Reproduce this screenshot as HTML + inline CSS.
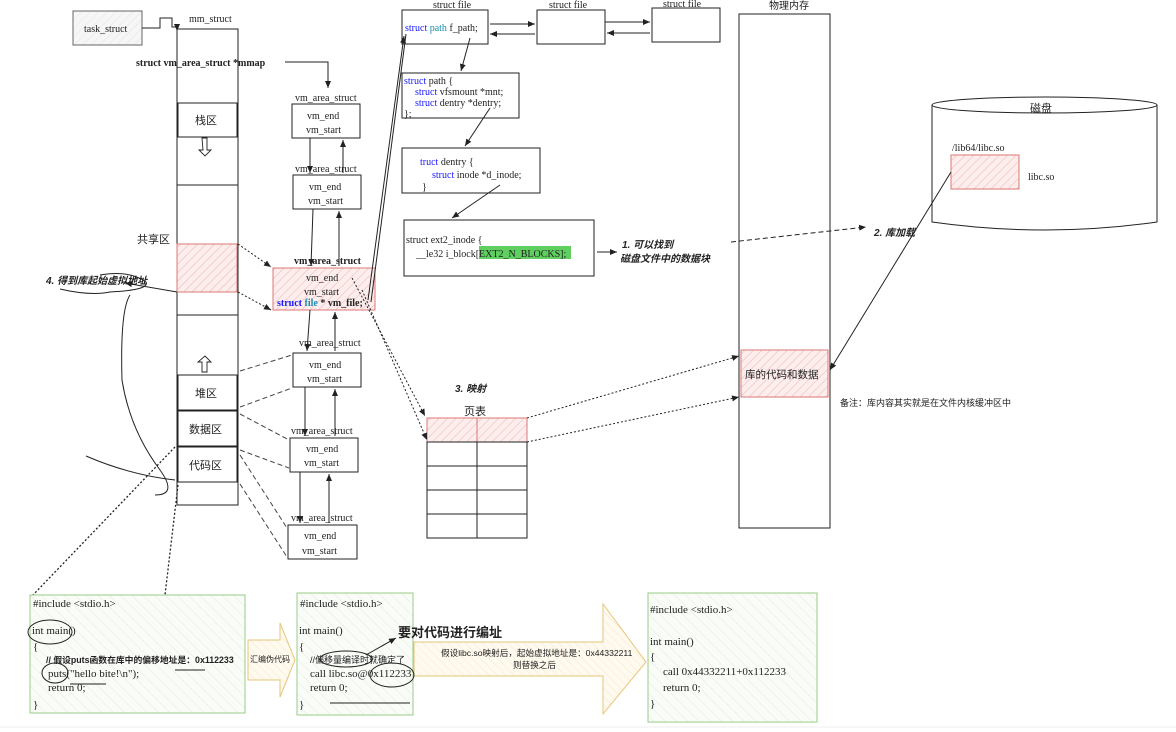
<!DOCTYPE html>
<html><head><meta charset="utf-8"><style>
html,body{margin:0;padding:0;background:#fff;}
svg{display:block;}
text{font-family:"Liberation Serif","Noto Sans CJK SC",serif;fill:#222;}
.cj{font-family:"Liberation Sans","Noto Sans CJK SC",sans-serif;}
.b{font-weight:bold;}
.bl{fill:#1a1aff;}
.cy{fill:#1a8fb0;}
</style></head><body>
<svg width="1176" height="732" viewBox="0 0 1176 732" font-size="10" xmlns="http://www.w3.org/2000/svg">
<defs>
<pattern id="rh" width="6" height="6" patternUnits="userSpaceOnUse" patternTransform="rotate(45)">
<rect width="6" height="6" fill="#fdeeee"/><line x1="0" y1="0" x2="0" y2="6" stroke="#f2b8b8" stroke-width="1.2"/></pattern>
<pattern id="gh" width="8" height="8" patternUnits="userSpaceOnUse" patternTransform="rotate(-45)">
<rect width="8" height="8" fill="#fafcf8"/><line x1="0" y1="0" x2="0" y2="8" stroke="#e2ebdc" stroke-width="1"/></pattern>
<pattern id="yh" width="6" height="6" patternUnits="userSpaceOnUse" patternTransform="rotate(-45)">
<rect width="6" height="6" fill="#fffaf0"/><line x1="0" y1="0" x2="0" y2="6" stroke="#f6e8c8" stroke-width="1"/></pattern>
<pattern id="gyh" width="6" height="6" patternUnits="userSpaceOnUse" patternTransform="rotate(45)">
<rect width="6" height="6" fill="#f6f6f6"/><line x1="0" y1="0" x2="0" y2="6" stroke="#e4e4e4" stroke-width="1"/></pattern>
<marker id="a" markerWidth="8" markerHeight="8" refX="7" refY="4" orient="auto" markerUnits="userSpaceOnUse"><path d="M0,1 L7,4 L0,7 z" fill="#222"/></marker>
</defs>
<g fill="none" stroke="#222" stroke-width="1">
<rect x="73" y="11" width="69" height="34" fill="url(#gyh)" stroke="#666"/>
<path d="M142,28 H160 V18 H172 V27 H177 V31" marker-end="url(#a)"/>
<rect x="177" y="29" width="61" height="476"/>
<line x1="177" y1="185" x2="238" y2="185"/>
<line x1="177" y1="315" x2="238" y2="315"/>
<rect x="178" y="103" width="59" height="34"/>
<rect x="177" y="244" width="60" height="48" fill="url(#rh)" stroke="#d77"/>
<rect x="178" y="375" width="59" height="35"/>
<rect x="178" y="411" width="59" height="35"/>
<rect x="178" y="447" width="59" height="35"/>
<path d="M202,138 h5 v12 h4 l-6,6 l-6,-6 h4 z" stroke-width="0.9"/>
<path d="M205,356 l6,6 h-4 v10 h-5 v-10 h-4 z" stroke-width="0.9"/>
<path d="M285,62 H328 V88" marker-end="url(#a)"/>
<rect x="292" y="104" width="68" height="34"/>
<rect x="293" y="175" width="68" height="34"/>
<rect x="273" y="268" width="102" height="42" fill="url(#rh)" stroke="#d77"/>
<rect x="293" y="353" width="68" height="34"/>
<rect x="290" y="438" width="68" height="34"/>
<rect x="288" y="525" width="69" height="34"/>
<line x1="310" y1="138" x2="310" y2="173" marker-end="url(#a)"/>
<line x1="343" y1="173" x2="343" y2="140" marker-end="url(#a)"/>
<line x1="313" y1="209" x2="311" y2="266" marker-end="url(#a)"/>
<line x1="339" y1="266" x2="339" y2="211" marker-end="url(#a)"/>
<line x1="310" y1="310" x2="307" y2="351" marker-end="url(#a)"/>
<line x1="335" y1="351" x2="335" y2="312" marker-end="url(#a)"/>
<line x1="305" y1="387" x2="305" y2="436" marker-end="url(#a)"/>
<line x1="335" y1="436" x2="335" y2="389" marker-end="url(#a)"/>
<line x1="300" y1="472" x2="300" y2="523" marker-end="url(#a)"/>
<line x1="329" y1="523" x2="329" y2="474" marker-end="url(#a)"/>
<path d="M238,244 L271,267" stroke-dasharray="2,2" marker-end="url(#a)"/>
<path d="M238,292 L271,310" stroke-dasharray="2,2" marker-end="url(#a)"/>
<g stroke-dasharray="5,3" stroke="#444">
<line x1="240" y1="371" x2="292" y2="355"/>
<line x1="240" y1="407" x2="292" y2="388"/>
<line x1="240" y1="414" x2="289" y2="440"/>
<line x1="240" y1="450" x2="289" y2="468"/>
<line x1="240" y1="455" x2="287" y2="528"/>
<line x1="240" y1="484" x2="287" y2="557"/>
</g>
<path d="M368,300 L404,36" marker-end="url(#a)"/>
<path d="M371,302 L406,34"/>
<rect x="402" y="10" width="86" height="34"/>
<rect x="537" y="10" width="68" height="34"/>
<rect x="652" y="8" width="68" height="34"/>
<line x1="490" y1="24" x2="535" y2="24" marker-end="url(#a)"/>
<line x1="535" y1="34" x2="490" y2="34" marker-end="url(#a)"/>
<line x1="605" y1="22" x2="650" y2="22" marker-end="url(#a)"/>
<line x1="650" y1="33" x2="607" y2="33" marker-end="url(#a)"/>
<rect x="402" y="73" width="117" height="45"/>
<rect x="402" y="148" width="138" height="45"/>
<rect x="404" y="220" width="190" height="56"/>
<line x1="470" y1="38" x2="461" y2="71" marker-end="url(#a)"/>
<line x1="490" y1="108" x2="465" y2="146" marker-end="url(#a)"/>
<line x1="500" y1="185" x2="452" y2="218" marker-end="url(#a)"/>
<line x1="597" y1="252" x2="617" y2="252" marker-end="url(#a)"/>
<rect x="739" y="14" width="91" height="514"/>
<rect x="741" y="350" width="87" height="47" fill="url(#rh)" stroke="#d77"/>
<path d="M731,242 L866,227" stroke-dasharray="5,3" marker-end="url(#a)"/>
<path d="M932,105 V222 Q1045,238 1157,222 V105"/>
<ellipse cx="1044.5" cy="105" rx="112.5" ry="8" fill="#fff"/>
<rect x="951" y="155" width="68" height="34" fill="url(#rh)" stroke="#d77"/>
<line x1="951" y1="172" x2="830" y2="370" marker-end="url(#a)"/>
<rect x="427" y="418" width="100" height="24" fill="url(#rh)" stroke="#d77"/>
<line x1="477" y1="418" x2="477" y2="442" stroke="#d77"/>
<rect x="427" y="442" width="100" height="96"/>
<line x1="477" y1="442" x2="477" y2="538"/>
<line x1="427" y1="466" x2="527" y2="466"/><line x1="427" y1="490" x2="527" y2="490"/><line x1="427" y1="514" x2="527" y2="514"/>
<g stroke-dasharray="2,2">
<line x1="352" y1="278" x2="425" y2="416" marker-end="url(#a)"/>
<line x1="362" y1="290" x2="427" y2="440" marker-end="url(#a)"/>
<line x1="527" y1="418" x2="739" y2="356" marker-end="url(#a)"/>
<line x1="527" y1="442" x2="739" y2="397" marker-end="url(#a)"/>
</g>
<path d="M177,292 L125,283" marker-end="url(#a)"/>
<path d="M60,289 Q90,296 110,292 Q150,290 146,282 Q130,270 100,275"/>
<path d="M130,295 Q120,310 122,380 Q130,430 160,470 Q178,495 155,495"/>
<path d="M86,456 Q130,475 175,480"/>
<path d="M175,447 L33,595" stroke-dasharray="2,2" stroke-width="1.3"/>
<path d="M178,485 L165,595" stroke-dasharray="2,2" stroke-width="1.3"/>
<rect x="30" y="595" width="215" height="118" fill="url(#gh)" stroke="#9c8"/>
<rect x="297" y="593" width="116" height="122" fill="url(#gh)" stroke="#9c8"/>
<rect x="648" y="593" width="169" height="129" fill="url(#gh)" stroke="#9c8"/>
<path d="M248,640 H280 V623 L295,660 L280,697 V680 H248 Z" fill="url(#yh)" stroke="#e6c77a"/>
<path d="M414,642 H603 V604 L646,662 L603,714 V676 H414 Z" fill="url(#yh)" stroke="#e6c77a"/>
<ellipse cx="50" cy="632" rx="22" ry="12"/>
<ellipse cx="55" cy="673" rx="13" ry="10"/>
<ellipse cx="346" cy="659" rx="26" ry="8"/>
<ellipse cx="392" cy="675" rx="22" ry="12"/>
<line x1="366" y1="655" x2="396" y2="638" marker-end="url(#a)"/>
<line x1="175" y1="670" x2="205" y2="670"/><line x1="70" y1="684" x2="106" y2="684"/>
<line x1="330" y1="703" x2="410" y2="703"/>
<line x1="0" y1="727" x2="1176" y2="727" stroke="#eee"/>
</g>
<text x="84" y="32" fill="#555">task_struct</text>
<text x="189" y="22">mm_struct</text>
<text x="136" y="66" class="b">struct vm_area_struct *mmap</text>
<text x="195" y="124" class="cj" font-size="11">栈区</text>
<text x="137" y="243" class="cj" font-size="11">共享区</text>
<text x="195" y="397" class="cj" font-size="11">堆区</text>
<text x="189" y="433" class="cj" font-size="11">数据区</text>
<text x="189" y="469" class="cj" font-size="11">代码区</text>
<text x="46" y="284" class="cj b" font-style="italic" font-size="10">4. 得到库起始虚拟地址</text>
<text x="295" y="101">vm_area_struct</text>
<text x="307" y="119">vm_end</text><text x="306" y="133">vm_start</text>
<text x="295" y="172">vm_area_struct</text>
<text x="309" y="190">vm_end</text><text x="308" y="204">vm_start</text>
<text x="294" y="264" class="b">vm_area_struct</text>
<text x="306" y="281">vm_end</text><text x="304" y="295">vm_start</text>
<text x="277" y="306" class="b"><tspan class="bl">struct</tspan> <tspan class="cy">file</tspan> * vm_file;</text>
<text x="299" y="346">vm_area_struct</text>
<text x="309" y="368">vm_end</text><text x="307" y="382">vm_start</text>
<text x="291" y="434">vm_area_struct</text>
<text x="306" y="452">vm_end</text><text x="304" y="466">vm_start</text>
<text x="291" y="521">vm_area_struct</text>
<text x="304" y="539">vm_end</text><text x="302" y="554">vm_start</text>
<text x="433" y="8">struct file</text>
<text x="549" y="8">struct file</text>
<text x="663" y="7">struct file</text>
<text x="405" y="31"><tspan class="bl">struct</tspan> <tspan class="cy">path</tspan> f_path;</text>
<text x="404" y="84"><tspan class="bl">struct</tspan> path {</text>
<text x="415" y="95"><tspan class="bl">struct</tspan> vfsmount *mnt;</text>
<text x="415" y="106"><tspan class="bl">struct</tspan> dentry *dentry;</text>
<text x="404" y="117">};</text>
<text x="420" y="165"><tspan class="bl">truct</tspan> dentry {</text>
<text x="432" y="178"><tspan class="bl">struct</tspan> inode *d_inode;</text>
<text x="422" y="190">}</text>
<rect x="479" y="246" width="92" height="13" fill="#5fd05f"/>
<text x="406" y="243">struct ext2_inode {</text>
<text x="416" y="257">__le32  i_block[EXT2_N_BLOCKS];</text>
<text x="622" y="248" class="cj b" font-style="italic">1. 可以找到</text>
<text x="620" y="262" class="cj b" font-style="italic">磁盘文件中的数据块</text>
<text x="769" y="9" class="cj">物理内存</text>
<text x="745" y="378" class="cj" font-size="10.5">库的代码和数据</text>
<text x="840" y="406" class="cj" font-size="9">备注：库内容其实就是在文件内核缓冲区中</text>
<text x="1030" y="112" class="cj" font-size="11">磁盘</text>
<text x="952" y="151" fill="#555">/lib64/libc.so</text>
<text x="1028" y="180" fill="#555">libc.so</text>
<text x="874" y="236" class="cj b" font-style="italic">2. 库加载</text>
<text x="455" y="392" class="cj b" font-style="italic">3. 映射</text>
<text x="464" y="415" class="cj" font-size="11">页表</text>
<text x="33" y="607" font-size="11">#include &lt;stdio.h&gt;</text>
<text x="32" y="634" font-size="11">int main()</text>
<text x="33" y="650" font-size="11">{</text>
<text x="46" y="663" font-size="8.8" class="cj b">// 假设puts函数在库中的偏移地址是：0x112233</text>
<text x="48" y="677" font-size="11">puts("hello bite!\n");</text>
<text x="48" y="691" font-size="11">return 0;</text>
<text x="33" y="708" font-size="11">}</text>
<text x="250" y="662" class="cj" font-size="8">汇编伪代码</text>
<text x="300" y="607" font-size="11">#include &lt;stdio.h&gt;</text>
<text x="299" y="634" font-size="11">int main()</text>
<text x="299" y="650" font-size="11">{</text>
<text x="310" y="663" font-size="9" class="cj">//偏移量编译时就确定了</text>
<text x="310" y="677" font-size="11">call libc.so@0x112233</text>
<text x="310" y="691" font-size="11">return 0;</text>
<text x="299" y="708" font-size="11">}</text>
<text x="398" y="637" class="cj b" font-size="13">要对代码进行编址</text>
<text x="441" y="656" class="cj" font-size="8.6">假设libc.so映射后，起始虚拟地址是：0x44332211</text>
<text x="513" y="668" class="cj" font-size="8.6">则替换之后</text>
<text x="650" y="613" font-size="11">#include &lt;stdio.h&gt;</text>
<text x="650" y="645" font-size="11">int main()</text>
<text x="650" y="660" font-size="11">{</text>
<text x="663" y="675" font-size="11">call 0x44332211+0x112233</text>
<text x="663" y="691" font-size="11">return 0;</text>
<text x="650" y="707" font-size="11">}</text>
</svg>
</body></html>
